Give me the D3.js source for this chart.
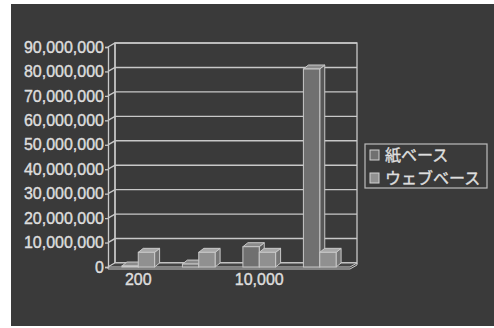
<!DOCTYPE html>
<html>
<head>
<meta charset="utf-8">
<script src="https://cdn.jsdelivr.net/npm/d3@7"></script>
<style>
  body { margin: 0; background: #fff; }
  svg { display: block; }
  .tick text { fill: #dedede; stroke: #dedede; stroke-width: 0.4px; font-family: "Liberation Sans", Arial, sans-serif; font-size: 16px; }
</style>
</head>
<body>
<div id="chart"></div>
<script>
// data
const categories = ["200", "1,000", "10,000", "100,000"];
const shownLabels = ["200", "10,000"];
const seriesNames = ["紙ベース", "ウェブベース"];
const paperValues = [400000, 1200000, 8300000, 81000000];
const webValues = [6000000, 6000000, 6000000, 6000000];
const yTickValues = [0, 10000000, 20000000, 30000000, 40000000, 50000000, 60000000, 70000000, 80000000, 90000000];

const width = 494, height = 328;
const plotLeft = 108, plotRight = 350, plotBottom = 267, plotTop = 47;
const dx = 7, dy = -4;      // wall depth
const bdx = 5, bdy = -4;    // bar depth
const lineCol = "#c8c8c8";
const fills = [
  { front: "#707070", top: "#8a8a8a", side: "#585858" },
  { front: "#909090", top: "#a8a8a8", side: "#767676" }
];

const svg = d3.select("#chart").append("svg")
  .attr("width", width).attr("height", height);

svg.append("rect").attr("x", 11).attr("y", 4)
  .attr("width", width - 11).attr("height", 322)
  .attr("fill", "#3a3a3a");

const x = d3.scaleBand().domain(categories).range([plotLeft, plotRight]);
const xs = d3.scaleBand().domain(seriesNames).range([0, x.bandwidth()]).paddingOuter(0.85);
const y = d3.scaleLinear().domain([0, 90000000]).range([plotBottom, plotTop]);

const poly = pts => "M" + pts.map(p => p.join(",")).join("L") + "Z";

// back wall
svg.append("rect")
  .attr("x", plotLeft + dx).attr("y", plotTop + dy)
  .attr("width", plotRight - plotLeft).attr("height", plotBottom - plotTop)
  .attr("fill", "none").attr("stroke", lineCol).attr("stroke-width", 1.3);

// grid on back wall and left wall
svg.append("g").selectAll("path")
  .data(yTickValues)
  .enter().append("path")
  .attr("d", d => `M${plotLeft},${y(d)}L${plotLeft + dx},${y(d) + dy}L${plotRight + dx},${y(d) + dy}`)
  .attr("fill", "none").attr("stroke", lineCol).attr("stroke-width", 1.4);

// left wall back edge
svg.append("line")
  .attr("x1", plotLeft + dx).attr("x2", plotLeft + dx)
  .attr("y1", plotTop + dy).attr("y2", plotBottom + dy)
  .attr("stroke", lineCol).attr("stroke-width", 1.3);

// floor slab
svg.append("path")
  .attr("d", poly([[plotLeft, plotBottom], [plotLeft + dx, plotBottom + dy], [plotRight + dx, plotBottom + dy], [plotRight, plotBottom]]))
  .attr("fill", "#454545").attr("stroke", lineCol);
svg.append("path")
  .attr("d", `M${plotLeft},${plotBottom}L${plotLeft},${plotBottom + 2}L${plotRight},${plotBottom + 2}L${plotRight + dx},${plotBottom + dy + 2}L${plotRight + dx},${plotBottom + dy}`)
  .attr("fill", "none").attr("stroke", lineCol);

// y axis
const yAxis = d3.axisLeft(y).tickValues(yTickValues).tickFormat(d3.format(",")).tickSize(3).tickPadding(1);
const gy = svg.append("g").attr("transform", `translate(${plotLeft},0)`).call(yAxis);
gy.selectAll("line, path").attr("stroke", lineCol).attr("stroke-width", 1.3);

// x axis
const xAxis = d3.axisBottom(x).tickValues(shownLabels).tickSize(0).tickPadding(7);
const gx = svg.append("g").attr("transform", `translate(0,${plotBottom})`).call(xAxis);
gx.select(".domain").remove();

// bars
const bars = [];
categories.forEach((c, i) => {
  [paperValues[i], webValues[i]].forEach((v, s) => bars.push({ c, s, v }));
});

const g = svg.selectAll("g.bar")
  .data(bars)
  .enter().append("g").attr("class", "bar");

g.each(function (d) {
  const el = d3.select(this);
  const x0 = x(d.c) + xs(seriesNames[d.s]);
  const x1 = x0 + xs.bandwidth();
  const y0 = y(0), y1 = y(d.v);
  const f = fills[d.s];
  el.append("path")
    .attr("d", poly([[x1, y1], [x1 + bdx, y1 + bdy], [x1 + bdx, y0 + bdy], [x1, y0]]))
    .attr("fill", f.side).attr("stroke", lineCol).attr("stroke-linejoin", "round");
  el.append("path")
    .attr("d", poly([[x0, y1], [x0 + bdx, y1 + bdy], [x1 + bdx, y1 + bdy], [x1, y1]]))
    .attr("fill", f.top).attr("stroke", lineCol).attr("stroke-linejoin", "round");
  el.append("rect")
    .attr("x", x0).attr("y", y1)
    .attr("width", x1 - x0).attr("height", y0 - y1)
    .attr("fill", f.front).attr("stroke", lineCol);
});

// legend
const lg = svg.append("g").attr("transform", "translate(365,144)");
lg.append("rect").attr("width", 122).attr("height", 44)
  .attr("fill", "none").attr("stroke", "#bcbcbc").attr("stroke-width", 1.2);
const item = lg.selectAll("g.item")
  .data(seriesNames)
  .enter().append("g").attr("class", "item")
  .attr("transform", (d, i) => `translate(5,${11 + i * 23})`);
item.append("rect")
  .attr("x", 0).attr("y", -5).attr("width", 9).attr("height", 10)
  .attr("fill", (d, i) => fills[i].front).attr("stroke", "#d0d0d0");
item.append("text")
  .attr("x", 15).attr("y", 0).attr("dy", "0.36em")
  .attr("fill", "#dedede").attr("stroke", "#dedede").attr("stroke-width", 0.4)
  .style("font-family", "'Noto Sans CJK JP', sans-serif")
  .style("font-size", "16px")
  .text(d => d);
</script>
</body>
</html>
